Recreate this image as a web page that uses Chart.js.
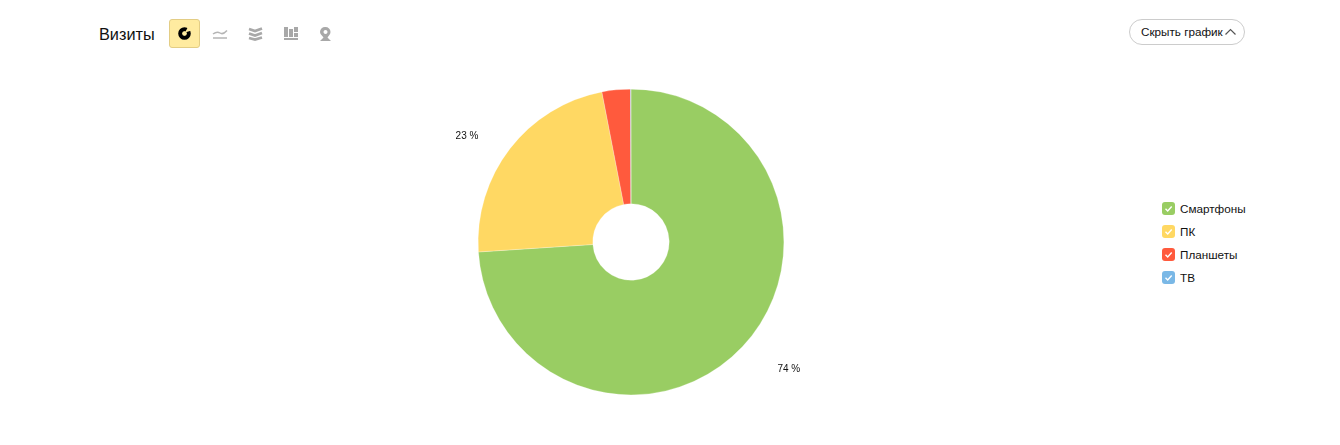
<!DOCTYPE html>
<html lang="ru"><head><meta charset="utf-8">
<script src="https://cdn.jsdelivr.net/npm/chart.js@4"></script>
<style>
html,body{margin:0;padding:0;background:#fff;width:1340px;height:445px;overflow:hidden;font-family:"Liberation Sans",Arial,sans-serif;color:#000}
.abs{position:absolute}
#title{left:99px;top:24px;font-size:16.3px;line-height:20px;color:#111}
#active{left:169px;top:19px;width:29px;height:27px;background:#ffeba0;border:1px solid #e3cd85;border-radius:3px}
#btn{left:1129px;top:19px;width:114px;height:24px;border:1px solid #ccc;border-radius:13px}
#btnt{left:1141px;top:25px;font-size:11.7px;line-height:14px;color:#111;white-space:nowrap}
.lg{left:1180px;font-size:11.7px;line-height:14px;color:#111;white-space:nowrap}
.sw{left:1162px;width:13px;height:13px;border-radius:3px}
#box{left:331px;top:89px;width:600px;height:306px}
</style></head><body>
<div class="abs" id="title">Визиты</div>
<div class="abs" id="active"></div>
<svg class="abs" style="left:0;top:0" width="400" height="60">
<circle cx="184.500" cy="33.500" r="4.300" fill="none" stroke="#000" stroke-width="4"/><path d="M185 32.500L188 27L191.500 30.500Z" fill="#ffeba0"/><circle cx="184.500" cy="33.500" r="2" fill="#ffeba0"/>
<g fill="none" stroke="#b5b5b5" stroke-width="1.500"><path d="M213 34Q217 31 220 33T227 30.500"/><path d="M213 38H227"/></g>
<g fill="none" stroke="#a8a8a8" stroke-width="2.800"><path d="M249 29L255 31L262 28.500"/><path d="M249 33.500L255 35.500L262 33"/><path d="M249 38L255 39.500L262 37.500"/></g>
<g fill="#a8a8a8"><rect x="284" y="27" width="4" height="10"/><rect x="289" y="29" width="4" height="8"/><rect x="294" y="27" width="4" height="5"/><rect x="294" y="33" width="4" height="4"/><rect x="284" y="38" width="14" height="2"/></g>
<path fill-rule="evenodd" fill="#a8a8a8" d="M325.500 27a5 5 0 0 1 5 5c0 2-1.500 3.500-3 5.500l3.500 3.500h-11l3.500-3.500c-1.500-2-3.500-3.500-3.500-5.500a5 5 0 0 1 5.500-5zm0 3a2 2 0 1 0 .01 0z"/>
</svg>
<div class="abs" id="btn"></div>
<div class="abs" id="btnt">Скрыть график</div>
<svg class="abs" style="left:1224px;top:26px" width="14" height="12"><path d="M1.500 8.500L6.500 3.500L11.500 8.500" fill="none" stroke="#555" stroke-width="1.200"/></svg>
<div id="legend"></div>
<div class="abs" id="box"><canvas id="c"></canvas></div>
<script>
const categories = ["Смартфоны", "ПК", "Планшеты", "ТВ"];
const seriesValues = [74, 23, 3, 0.05];
const sliceColors = ["#99cd63", "#ffd863", "#ff5a3d", "#7ab8e6"];
const shownLabels = ["74 %", "23 %", "", ""];

const legend = document.getElementById("legend");
categories.forEach((name, i) => {
  const y = 202 + i * 23;
  legend.insertAdjacentHTML("beforeend",
    `<div class="abs sw" style="top:${y}px;background:${sliceColors[i]}"></div>
     <svg class="abs" style="left:1162px;top:${y}px" width="13" height="13"><path d="M3.500 6.800L5.700 9L9.700 4.500" fill="none" stroke="#fff" stroke-width="1.400"/></svg>
     <div class="abs lg" style="top:${y}px">${name}</div>`);
});

const outsideLabels = {
  id: "outsideLabels",
  afterDatasetsDraw(chart) {
    const ctx = chart.ctx;
    ctx.save();
    ctx.font = '10px "Liberation Sans", Arial, sans-serif';
    ctx.fillStyle = "#111";
    ctx.textAlign = "center";
    ctx.textBaseline = "middle";
    chart.getDatasetMeta(0).data.forEach((arc, i) => {
      if (!shownLabels[i]) return;
      const p = arc.getProps(["startAngle", "endAngle", "outerRadius", "x", "y"], true);
      const a = (p.startAngle + p.endAngle) / 2 - 4.5 * Math.PI / 180;
      const r = p.outerRadius + 46;
      ctx.fillText(shownLabels[i], p.x + Math.cos(a) * r + 2.5, p.y + Math.sin(a) * r + 3);
    });
    ctx.restore();
  }
};

new Chart(document.getElementById("c"), {
  type: "doughnut",
  data: { labels: categories, datasets: [{ data: seriesValues, backgroundColor: sliceColors, borderWidth: 0.25, borderColor: "#fff" }] },
  options: {
    responsive: true, maintainAspectRatio: false, animation: false,
    cutout: "25%",
    layout: { padding: 0 },
    plugins: { legend: { display: false }, tooltip: { enabled: false } }
  },
  plugins: [outsideLabels]
});
</script>
</body></html>
